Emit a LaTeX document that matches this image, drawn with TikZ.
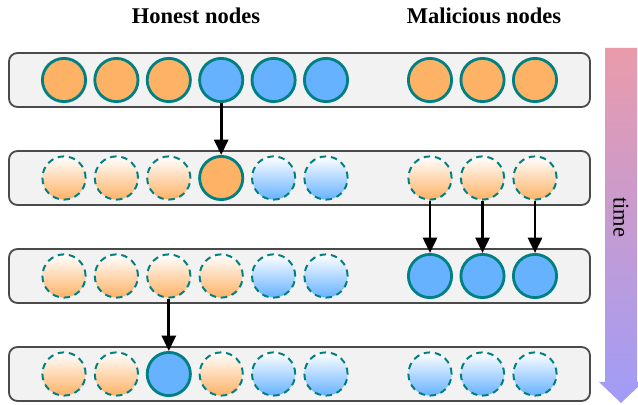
\documentclass[tikz,border=0pt]{standalone}
\usepackage{fontspec}
\setmainfont{Liberation Serif}
\usepackage{tikz}
\usetikzlibrary{positioning, arrows.meta}

\definecolor{nodeorange}{HTML}{FDB266}
\definecolor{nodeblue}{HTML}{66B2FF}
\definecolor{rim}{HTML}{008080}
\definecolor{barfill}{HTML}{F2F2F2}
\definecolor{barline}{HTML}{4A4A4A}
\definecolor{timetop}{HTML}{EA9BAB}
\definecolor{timebot}{HTML}{A09CF8}

\tikzset{
  peer/.style={circle, minimum size=1.08cm, inner sep=0pt},
  orange node/.style={peer, fill=nodeorange, draw=rim, line width=2pt},
  blue node/.style={peer, fill=nodeblue, draw=rim, line width=2pt},
  faded orange/.style={peer, top color=white, bottom color=nodeorange, draw=rim, line width=1.4pt, dash pattern=on 4.6pt off 3.4pt},
  faded blue/.style={peer, top color=white, bottom color=nodeblue, draw=rim, line width=1.4pt, dash pattern=on 4.6pt off 3.4pt},
  bar/.style={draw=barline, fill=barfill, line width=1.3pt, rounded corners=6pt},
  flow/.style={line width=2.1pt, -{Triangle[length=11pt,width=10pt]}},
  heading/.style={font=\fontsize{16}{19}\selectfont\bfseries}
}

\begin{document}
\begin{tikzpicture}[x=0.025cm, y=-0.025cm]
\useasboundingbox (0,0) rectangle (638,405);
% --- Titles ---
\node[heading] (honest) at (196,16) {Honest nodes};
\node[heading] (malicious) at (484,16) {Malicious nodes};
% --- Row backgrounds ---
\draw[bar] (9,53) rectangle (590,107);
\draw[bar] (9,151) rectangle (590,205);
\draw[bar] (9,249) rectangle (590,303);
\draw[bar] (9,347) rectangle (590,401);
% --- Row 1 ---
\foreach \s [count=\i] in {orange node,orange node,orange node,blue node,blue node,blue node}
  \node[\s] (a\i) at ({11.6+52.4*\i},80) {};
\foreach \s [count=\i] in {orange node,orange node,orange node}
  \node[\s] (am\i) at ({377.5+52.5*\i},80) {};
% --- Row 2 ---
\foreach \s [count=\i] in {faded orange,faded orange,faded orange,orange node,faded blue,faded blue}
  \node[\s] (b\i) at ({11.6+52.4*\i},178) {};
\foreach \s [count=\i] in {faded orange,faded orange,faded orange}
  \node[\s] (bm\i) at ({377.5+52.5*\i},178) {};
% --- Row 3 ---
\foreach \s [count=\i] in {faded orange,faded orange,faded orange,faded orange,faded blue,faded blue}
  \node[\s] (c\i) at ({11.6+52.4*\i},276) {};
\foreach \s [count=\i] in {blue node,blue node,blue node}
  \node[\s] (cm\i) at ({377.5+52.5*\i},276) {};
% --- Row 4 ---
\foreach \s [count=\i] in {faded orange,faded orange,blue node,faded orange,faded blue,faded blue}
  \node[\s] (d\i) at ({11.6+52.4*\i},374) {};
\foreach \s [count=\i] in {faded blue,faded blue,faded blue}
  \node[\s] (dm\i) at ({377.5+52.5*\i},374) {};
% --- Transitions ---
\draw[flow] (a4) -- (b4);
\foreach \i in {1,2,3}
  \draw[flow] (bm\i) -- (cm\i);
\draw[flow] (c3) -- (d3);
% --- Time axis ---
\shade[top color=timetop, bottom color=timebot]
  (605,48) -- (637,48) -- (637,382) -- (643,382) -- (621,403) -- (599,382) -- (605,382) -- cycle;
\node[rotate=-90, font=\fontsize{16}{19}\selectfont] (time) at (621,217) {time};
\end{tikzpicture}
\end{document}
